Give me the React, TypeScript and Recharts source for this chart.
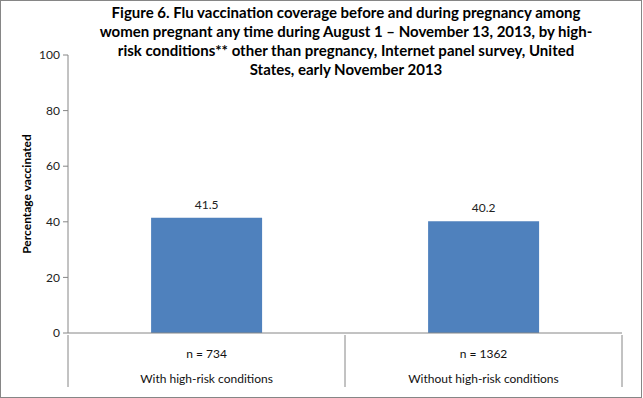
import React from 'react';
import { BarChart, Bar, XAxis, YAxis, LabelList } from 'recharts';

const categories = ['With high-risk conditions', 'Without high-risk conditions'];
const sampleSizes = ['n = 734', 'n = 1362'];
const coverage = [41.5, 40.2];
const yTicks = [0, 20, 40, 60, 80, 100];

const titleLines = [
  'Figure 6. Flu vaccination coverage before and during pregnancy among',
  'women pregnant any time during August 1 \u2013 November 13, 2013, by high-',
  'risk conditions** other than pregnancy, Internet panel survey, United',
  'States, early November 2013',
];

const data = categories.map((name, i) => ({ name, n: sampleSizes[i], value: coverage[i] }));

const W = 643;
const H = 398;
const PLOT_LEFT = 68;
const PLOT_RIGHT = 622;
const AXIS_COLOR = '#868686';
const FONT = 'Lato, "Open Sans", sans-serif';
const HALF_BAND = (PLOT_RIGHT - PLOT_LEFT) / categories.length / 2;

const SampleTick = (props: any) => {
  const { x, y, payload, index } = props;
  const last = index === categories.length - 1;
  return (
    <g>
      <line x1={x - HALF_BAND} x2={x - HALF_BAND} y1={y} y2={y + 52} stroke={AXIS_COLOR} />
      {last && <line x1={x + HALF_BAND} x2={x + HALF_BAND} y1={y} y2={y + 52} stroke={AXIS_COLOR} />}
      <text x={x} y={y + 23} textAnchor="middle" fontSize={12} fill="#111" fontFamily={FONT}>
        {payload.value}
      </text>
    </g>
  );
};

const CategoryTick = (props: any) => {
  const { x, y, payload } = props;
  return (
    <text x={x} y={y + 18} textAnchor="middle" fontSize={12} fill="#111" fontFamily={FONT}>
      {payload.value}
    </text>
  );
};

const YLabel = () => (
  <text
    x={26}
    y={194}
    transform="rotate(-90 26 194)"
    textAnchor="middle"
    dominantBaseline="central"
    fontSize={12}
    fontWeight="bold"
    fill="#000"
    fontFamily={FONT}
  >
    Percentage vaccinated
  </text>
);

export default function App() {
  return (
    <div style={{ position: 'fixed', left: 0, top: 0, width: W, height: H, background: '#fff' }}>
      <BarChart
        width={W}
        height={H}
        data={data}
        margin={{ top: 55, right: W - PLOT_RIGHT, bottom: 0, left: 0 }}
        barCategoryGap="30%"
      >
        <XAxis
          dataKey="n"
          xAxisId={0}
          height={30}
          tickSize={0}
          tickLine={false}
          stroke={AXIS_COLOR}
          tick={<SampleTick />}
          interval={0}
        />
        <XAxis
          dataKey="name"
          xAxisId="cat"
          height={35}
          tickSize={0}
          tickLine={false}
          axisLine={false}
          tick={<CategoryTick />}
          interval={0}
        />
        <YAxis
          width={PLOT_LEFT}
          domain={[0, 100]}
          ticks={yTicks}
          interval={0}
          stroke={AXIS_COLOR}
          tickSize={5}
          tickMargin={3}
          tick={{ fontSize: 12, fill: '#222', fontFamily: FONT }}
          label={<YLabel />}
        />
        <Bar dataKey="value" xAxisId={0} fill="#4F81BD" isAnimationActive={false}>
          <LabelList dataKey="value" position="top" offset={9} fontSize={12} fill="#222" fontFamily={FONT} />
        </Bar>
      </BarChart>
      <div
        style={{
          position: 'absolute',
          left: 346 - 270,
          width: 540,
          top: 3,
          textAlign: 'center',
          fontFamily: FONT,
          fontWeight: 'bold',
          fontSize: 15,
          lineHeight: '19px',
          color: '#000',
        }}
      >
        {titleLines.map((line) => (
          <div key={line} style={{ whiteSpace: 'nowrap' }}>{line}</div>
        ))}
      </div>
      <div
        style={{
          position: 'absolute',
          left: 0,
          top: 0,
          width: W - 1,
          height: H,
          boxSizing: 'border-box',
          border: `1px solid ${AXIS_COLOR}`,
          pointerEvents: 'none',
        }}
      />
    </div>
  );
}
